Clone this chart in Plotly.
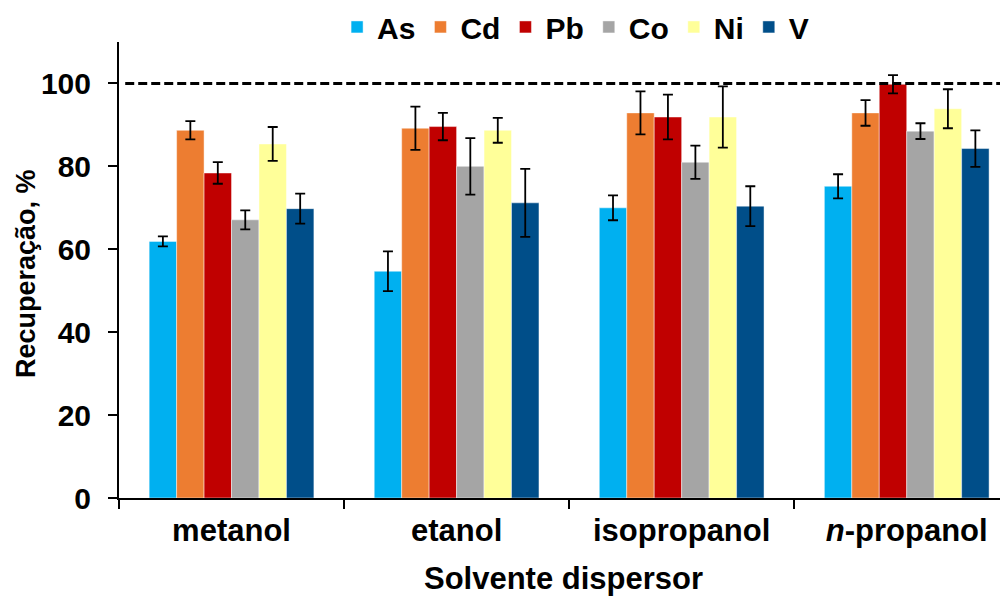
import plotly.graph_objects as go

categories = ["metanol", "etanol", "isopropanol", "<i>n</i>-propanol"]
elements = ["As", "Cd", "Pb", "Co", "Ni", "V"]
colors = ["#00B0F0", "#ED7D31", "#C00000", "#A5A5A5", "#FFFF99", "#004E89"]

as_vals = [61.9, 54.7, 70.0, 75.2]
as_err = [1.2, 4.8, 3.0, 2.9]
cd_vals = [88.7, 89.2, 92.9, 92.9]
cd_err = [2.2, 5.2, 5.2, 3.1]
pb_vals = [78.4, 89.6, 91.9, 99.8]
pb_err = [2.6, 3.3, 5.4, 2.2]
co_vals = [67.1, 80.0, 81.0, 88.5]
co_err = [2.3, 6.8, 4.0, 1.9]
ni_vals = [85.4, 88.7, 91.9, 93.9]
ni_err = [4.1, 3.0, 7.4, 4.7]
v_vals = [69.8, 71.2, 70.4, 84.3]
v_err = [3.6, 8.2, 4.8, 4.4]

values = [as_vals, cd_vals, pb_vals, co_vals, ni_vals, v_vals]
errors = [as_err, cd_err, pb_err, co_err, ni_err, v_err]

reference_line = 100

FONT = "Liberation Sans, Arial, sans-serif"

fig = go.Figure()
for name, vals, errs, col in zip(elements, values, errors, colors):
    fig.add_trace(go.Bar(
        name=name, x=categories, y=vals,
        marker=dict(color=col, line=dict(color="rgba(255,255,255,0.45)", width=1)),
        error_y=dict(type="data", array=errs, visible=True, color="black",
                     thickness=1.8, width=5),
    ))

fig.add_shape(type="line", xref="paper", yref="y", x0=0.007, x1=1,
              y0=reference_line, y1=reference_line,
              line=dict(color="black", width=3, dash="9px,4px"))

fig.add_annotation(text="Recuperação, %", xref="paper", yref="paper",
                   x=-0.1046, y=0.491, xanchor="center", yanchor="middle",
                   textangle=-90, showarrow=False,
                   font=dict(family=FONT, size=27, color="black", weight="bold"))

fig.update_layout(
    width=1000, height=588,
    margin=dict(l=111, r=0, t=34, b=98, autoexpand=False),
    paper_bgcolor="white", plot_bgcolor="white",
    barmode="group", bargap=0.268, bargroupgap=0,
    font=dict(family=FONT, size=30, color="black", weight="bold"),
    legend=dict(orientation="h", x=0.5136, xanchor="center",
                y=1.033, yanchor="middle", yref="paper",
                font=dict(family=FONT, size=30, color="black", weight="bold"),
                itemwidth=30, tracegroupgap=0, bgcolor="rgba(0,0,0,0)"),
    showlegend=True,
)

fig.update_xaxes(
    range=[-0.5, 3.45], showline=True, linecolor="black", linewidth=2,
    ticks="outside", tickson="boundaries", ticklen=9, tickwidth=2, tickcolor="black",
    showgrid=False, zeroline=False, automargin=False,
    tickfont=dict(family=FONT, size=31, color="black", weight="bold"),
    ticklabelstandoff=4,
    title=dict(text="Solvente dispersor", standoff=24,
               font=dict(family=FONT, size=31, color="black", weight="bold")),
)
fig.update_yaxes(
    range=[0, 110], tickvals=[0, 20, 40, 60, 80, 100],
    showline=True, linecolor="black", linewidth=2,
    ticks="outside", ticklen=9, tickwidth=2, tickcolor="black",
    showgrid=False, zeroline=False, automargin=False,
    tickfont=dict(family=FONT, size=30, color="black", weight="bold"),
    ticklabelstandoff=11,
)

fig.write_html("out.html")
